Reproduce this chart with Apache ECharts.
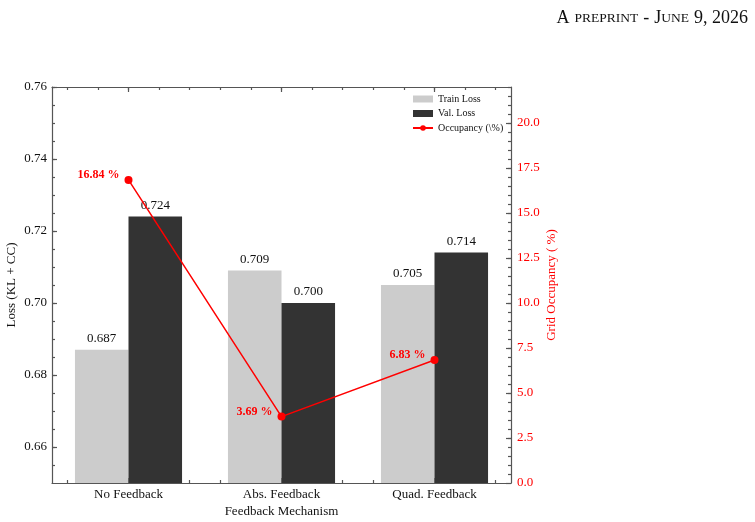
<!DOCTYPE html>
<html>
<head>
<meta charset="UTF-8">
<script src="https://cdn.jsdelivr.net/npm/echarts@6/dist/echarts.min.js"></script>
<style>
    html, body { margin: 0; background: #fff; }
    #main { width: 755px; height: 522px; }
</style>
</head>
<body>
<div id="main"></div>
<script>
var categories = ['No Feedback', 'Abs. Feedback', 'Quad. Feedback'];
var trainLoss = [0.687, 0.709, 0.705];
var valLoss = [0.724, 0.700, 0.714];
var occupancy = [16.84, 3.69, 6.83];
var lossTicks = [0.66, 0.68, 0.70, 0.72, 0.74, 0.76];
var occTicks = [0, 2.5, 5, 7.5, 10, 12.5, 15, 17.5, 20];

// tick positions for the minor ticks
function steps(a, b, s) {
    var out = [];
    for (var v = a; v <= b + 1e-9; v += s) out.push(+v.toFixed(4));
    return out;
}
var lossMinor = steps(0.655, 0.76, 0.005);
var occMinor = steps(0.5, 22, 0.5);
var xMinor = steps(-0.4, 2.4, 0.2);

var FONT = 'Liberation Serif';
var EDGE = '#555';
var lineStyle = {color: EDGE, width: 1.2};

function majorCat(pos, labels) {
    return {
        type: 'category', data: categories, position: pos, gridIndex: 0,
        axisLine: {show: true, onZero: false, lineStyle: lineStyle},
        axisTick: {show: true, inside: true, alignWithLabel: true, length: 5, lineStyle: lineStyle},
        axisLabel: {show: labels, fontFamily: FONT, fontSize: 13, color: '#111', margin: 5},
        splitLine: {show: false}
    };
}
function minorAxis(pos, min, max, ticks) {
    return {
        type: 'value', position: pos, min: min, max: max,
        axisLine: {show: false, onZero: false},
        axisTick: {show: true, inside: true, length: 3, customValues: ticks, lineStyle: lineStyle},
        axisLabel: {show: false},
        splitLine: {show: false}
    };
}

var xBottom = majorCat('bottom', true);
xBottom.name = 'Feedback Mechanism';
xBottom.nameLocation = 'middle';
xBottom.nameGap = 22;
xBottom.nameMoveOverlap = false;
xBottom.nameTextStyle = {fontFamily: FONT, fontSize: 13, color: '#111'};

var chart = echarts.init(document.getElementById('main'));
chart.setOption({
    animation: false,
    title: {
        text: '{b|A} {s|PREPRINT} {b|-} {b|J}{s|UNE} {b|9, 2026}',
        right: 2, top: 4,
        textStyle: {
            rich: {
                b: {fontFamily: FONT, fontSize: 18, fontWeight: 'normal', color: '#111'},
                s: {fontFamily: FONT, fontSize: 13.5, fontWeight: 'normal', color: '#111'}
            }
        }
    },
    grid: {left: 52, right: 244, top: 87, bottom: 39, containLabel: false, outerBoundsMode: 'none'},
    legend: {
        orient: 'vertical', left: 412, top: 94, padding: 0,
        itemWidth: 20, itemHeight: 7, itemGap: 4.5,
        textStyle: {fontFamily: FONT, fontSize: 10, color: '#111'},
        data: [
            {name: 'Train Loss', icon: 'rect'},
            {name: 'Val. Loss', icon: 'rect'},
            {name: 'Occupancy (\\%)'}
        ]
    },
    xAxis: [
        xBottom,
        minorAxis('bottom', -0.5, 2.5, xMinor),
        majorCat('top', false),
        minorAxis('top', -0.5, 2.5, xMinor)
    ],
    yAxis: [
        {
            type: 'value', position: 'left', min: 0.65, max: 0.76,
            name: 'Loss (KL + CC)', nameLocation: 'middle', nameGap: 34, nameMoveOverlap: false,
            nameTextStyle: {fontFamily: FONT, fontSize: 13, color: '#111'},
            axisLine: {show: true, onZero: false, lineStyle: lineStyle},
            axisTick: {show: true, inside: true, length: 5, customValues: lossTicks, lineStyle: lineStyle},
            axisLabel: {
                customValues: lossTicks, fontFamily: FONT, fontSize: 13, color: '#111', margin: 5,
                formatter: function (v) { return v.toFixed(2); }
            },
            splitLine: {show: false}
        },
        {
            type: 'value', position: 'right', min: 0, max: 22,
            name: 'Grid Occupancy ( %)', nameLocation: 'middle', nameGap: 34.5, nameRotate: 90,
            nameMoveOverlap: false,
            nameTextStyle: {fontFamily: FONT, fontSize: 13, color: '#ff0000'},
            axisLine: {show: true, onZero: false, lineStyle: lineStyle},
            axisTick: {show: true, inside: true, length: 5, customValues: occTicks, lineStyle: lineStyle},
            axisLabel: {
                customValues: occTicks, fontFamily: FONT, fontSize: 13, color: '#ff0000', margin: 6,
                formatter: function (v) { return v.toFixed(1); }
            },
            splitLine: {show: false}
        },
        minorAxis('left', 0.65, 0.76, lossMinor),
        minorAxis('right', 0, 22, occMinor)
    ],
    series: [
        {
            name: 'Train Loss', type: 'bar', xAxisIndex: 0, yAxisIndex: 0,
            data: trainLoss, barWidth: '35%', barGap: '0%',
            itemStyle: {color: '#cccccc'},
            label: {
                show: true, position: 'top', distance: 5,
                fontFamily: FONT, fontSize: 13, color: '#111',
                formatter: function (p) { return p.value.toFixed(3); }
            }
        },
        {
            name: 'Val. Loss', type: 'bar', xAxisIndex: 0, yAxisIndex: 0,
            data: valLoss, barWidth: '35%', barGap: '0%',
            itemStyle: {color: '#333333'},
            label: {
                show: true, position: 'top', distance: 5,
                fontFamily: FONT, fontSize: 13, color: '#111',
                formatter: function (p) { return p.value.toFixed(3); }
            }
        },
        {
            name: 'Occupancy (\\%)', type: 'line', xAxisIndex: 0, yAxisIndex: 1,
            data: occupancy, symbol: 'circle', symbolSize: 8,
            itemStyle: {color: '#ff0000'},
            lineStyle: {color: '#ff0000', width: 1.5},
            z: 5,
            label: {
                show: true, position: 'left', distance: 5, offset: [0, -5],
                fontFamily: FONT, fontSize: 12, fontWeight: 'bold', color: '#ff0000',
                formatter: function (p) { return p.value.toFixed(2) + ' %'; }
            }
        }
    ]
});
</script>
</body>
</html>
